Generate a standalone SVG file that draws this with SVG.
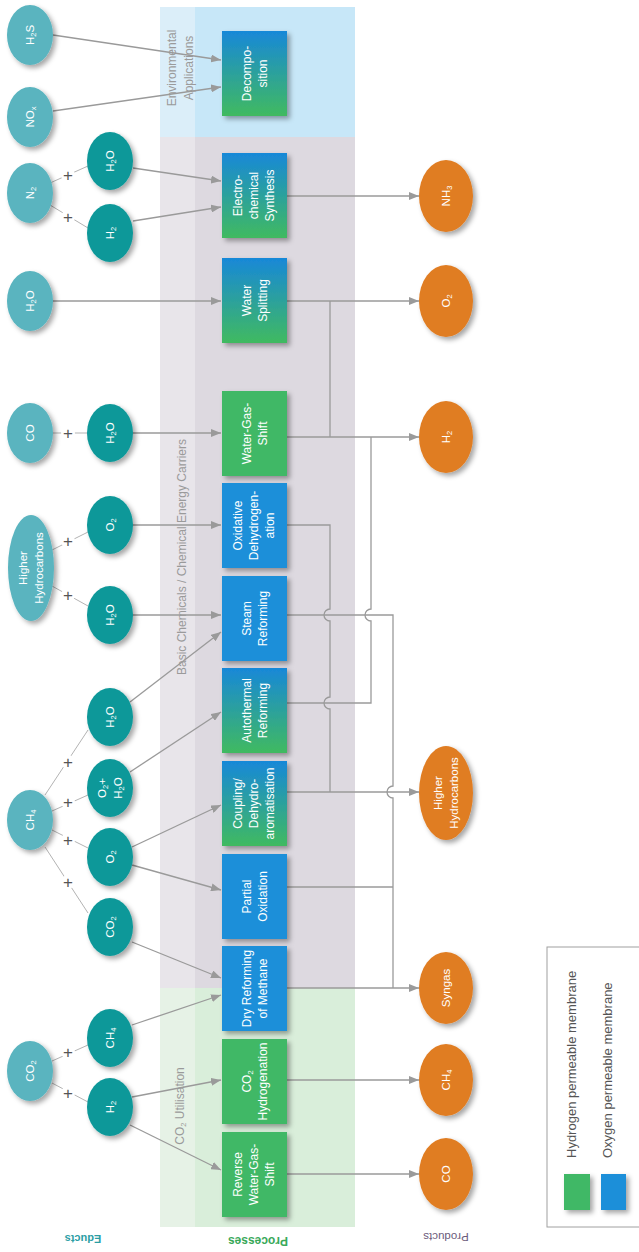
<svg xmlns="http://www.w3.org/2000/svg" width="639" height="1252" viewBox="0 0 639 1252">
<style>
text{font-family:"Liberation Sans",Arial,sans-serif}
.bt{fill:#fff;font-size:12px;text-anchor:middle}
.et{fill:#fff;font-size:11.5px;text-anchor:middle}
.sub{font-size:7.5px}
.lab{fill:#9a9a9a;font-size:12px;text-anchor:middle}
.c{stroke:#9a9a9a;stroke-width:1.3;fill:none}
.ca{stroke:#9a9a9a;stroke-width:1.3;fill:none;marker-end:url(#ah)}
.pl{stroke:#b3b3b3;stroke-width:1;fill:none}
.plus{fill:#555;font-size:17px;text-anchor:middle}
.g{fill:#3fb866}
.b{fill:#1b8fd9}
.gr{fill:url(#grad)}
.e1{fill:#5ab4bf}
.e2{fill:#0f9899}
.pr{fill:#e07d24}
</style>
<defs>
<linearGradient id="grad" x1="0" y1="0" x2="0" y2="1">
<stop offset="0" stop-color="#1888d8"/>
<stop offset="1" stop-color="#40ba60"/>
</linearGradient>
<filter id="sh" x="-30%" y="-30%" width="170%" height="170%">
<feDropShadow dx="3" dy="3" stdDeviation="2.5" flood-color="#000" flood-opacity="0.35"/>
</filter>
<marker id="ah" viewBox="0 0 10 8" refX="10" refY="4" markerWidth="10" markerHeight="8" markerUnits="userSpaceOnUse" orient="auto">
<path d="M0,0 L10,4 L0,8 z" fill="#9a9a9a"/>
</marker>
</defs>

<g id="bands">
<rect x="160" y="7" width="35" height="130" fill="#dbeef9"/>
<rect x="195" y="7" width="160" height="130" fill="#c7e7f8"/>
<rect x="160" y="137" width="35" height="851" fill="#e8e5ea"/>
<rect x="195" y="137" width="160" height="851" fill="#ddd9e0"/>
<rect x="160" y="988" width="35" height="239" fill="#e6f2e6"/>
<rect x="195" y="988" width="160" height="239" fill="#d9eeda"/>
<text class="lab" transform="translate(0,68) rotate(-90)"><tspan x="0" y="176">Environmental</tspan><tspan x="0" y="193">Applications</tspan></text>
<text class="lab" transform="translate(186,557) rotate(-90)" x="0" y="0">Basic Chemicals / Chemical Energy Carriers</text>
<text class="lab" transform="translate(184,1106) rotate(-90)" x="0" y="0">CO<tspan class="sub" dy="2">2</tspan><tspan dy="-2"> Utilisation</tspan></text>
</g>

<g id="headers">
<text transform="translate(83,1235) rotate(180)" style="fill:#2b9ea5;font-size:11px;font-weight:bold;text-anchor:middle">Educts</text>
<text transform="translate(258,1237) rotate(180)" style="fill:#3aa95a;font-size:12px;font-weight:bold;text-anchor:middle">Processes</text>
<text transform="translate(446,1233) rotate(180)" style="fill:#6b5b7b;font-size:11.5px;text-anchor:middle">Products</text>
</g>

<g id="educt-links">
<path class="pl" d="M50,183 L88,166"/>
<path class="pl" d="M50,205 L88,228"/>
<path class="pl" d="M53,433 L87,433"/>
<path class="pl" d="M52,550 L88,532"/>
<path class="pl" d="M52,586 L88,606"/>
<path class="pl" d="M45,795 L88,730"/>
<path class="pl" d="M52,811 L88,795"/>
<path class="pl" d="M52,830 L88,848"/>
<path class="pl" d="M45,847 L88,913"/>
<path class="pl" d="M52,1061 L88,1045"/>
<path class="pl" d="M52,1083 L88,1102"/>
<g fill="#fff">
<circle cx="68" cy="175" r="7"/><circle cx="68" cy="217" r="7"/><circle cx="68" cy="433" r="7"/>
<circle cx="68" cy="541" r="7"/><circle cx="68" cy="595" r="7"/><circle cx="68" cy="762" r="7"/>
<circle cx="68" cy="802" r="7"/><circle cx="68" cy="840" r="7"/><circle cx="68" cy="882" r="7"/>
<circle cx="68" cy="1052" r="7"/><circle cx="68" cy="1093" r="7"/>
</g>
<text class="plus" x="68" y="181">+</text>
<text class="plus" x="68" y="223">+</text>
<text class="plus" x="68" y="439">+</text>
<text class="plus" x="68" y="547">+</text>
<text class="plus" x="68" y="601">+</text>
<text class="plus" x="68" y="768">+</text>
<text class="plus" x="68" y="808">+</text>
<text class="plus" x="68" y="846">+</text>
<text class="plus" x="68" y="888">+</text>
<text class="plus" x="68" y="1058">+</text>
<text class="plus" x="68" y="1099">+</text>
</g>

<g id="connectors">
<path class="ca" d="M53,35 L221,60"/>
<path class="ca" d="M53,111 L221,87"/>
<path class="ca" d="M133,168 L221,181"/>
<path class="ca" d="M133,221 L221,207"/>
<path class="ca" d="M53,301 L221,301"/>
<path class="ca" d="M133,433 L221,433"/>
<path class="ca" d="M133,525 L221,525"/>
<path class="ca" d="M133,615 L221,615"/>
<path class="ca" d="M130,702 L221,632"/>
<path class="ca" d="M130,772 L221,712"/>
<path class="ca" d="M132,847 L221,805"/>
<path class="ca" d="M132,865 L221,890"/>
<path class="ca" d="M132,942 L221,978"/>
<path class="ca" d="M132,1025 L221,995"/>
<path class="ca" d="M132,1097 L221,1080"/>
<path class="ca" d="M130,1125 L221,1170"/>

<path class="ca" d="M287,196 L419,196"/>
<path class="ca" d="M287,301 L419,301"/>
<path class="c" d="M330,301 V437"/>
<path class="ca" d="M287,437 L419,437"/>
<path class="c" d="M287,525 H330 V609 A6,6 0 0,0 330,621 V697 A6,6 0 0,0 330,709 V792"/>
<path class="c" d="M287,615 H393 V786 A6,6 0 0,0 393,798 V988"/>
<path class="c" d="M287,703 H371 V621 A6,6 0 0,1 371,609 V437"/>
<path class="ca" d="M287,792 L419,792"/>
<path class="c" d="M287,887 H393"/>
<path class="ca" d="M287,988 L419,988"/>
<path class="ca" d="M287,1080 L419,1080"/>
<path class="ca" d="M287,1174 L419,1174"/>
</g>

<g id="educts">
<g id="e-h2s"><ellipse class="e1" cx="30" cy="35" rx="23" ry="30" filter="url(#sh)"/><text class="et" transform="translate(30,35) rotate(-90)" x="0" y="4">H<tspan class="sub" dy="2">2</tspan><tspan dy="-2">S</tspan></text></g>
<g id="e-nox"><ellipse class="e1" cx="30" cy="117" rx="23" ry="30" filter="url(#sh)"/><text class="et" transform="translate(30,117) rotate(-90)" x="0" y="4">NO<tspan class="sub" dy="2">x</tspan></text></g>
<g id="e-n2"><ellipse class="e1" cx="30" cy="193" rx="23" ry="30" filter="url(#sh)"/><text class="et" transform="translate(30,193) rotate(-90)" x="0" y="4">N<tspan class="sub" dy="2">2</tspan></text></g>
<g id="e-h2o-a"><ellipse class="e2" cx="110" cy="161" rx="23" ry="29" filter="url(#sh)"/><text class="et" transform="translate(110,161) rotate(-90)" x="0" y="4">H<tspan class="sub" dy="2">2</tspan><tspan dy="-2">O</tspan></text></g>
<g id="e-h2-a"><ellipse class="e2" cx="110" cy="233" rx="23" ry="29" filter="url(#sh)"/><text class="et" transform="translate(110,233) rotate(-90)" x="0" y="4">H<tspan class="sub" dy="2">2</tspan></text></g>
<g id="e-h2o-b"><ellipse class="e1" cx="30" cy="301" rx="23" ry="30" filter="url(#sh)"/><text class="et" transform="translate(30,301) rotate(-90)" x="0" y="4">H<tspan class="sub" dy="2">2</tspan><tspan dy="-2">O</tspan></text></g>
<g id="e-co"><ellipse class="e1" cx="30" cy="433" rx="23" ry="30" filter="url(#sh)"/><text class="et" transform="translate(30,433) rotate(-90)" x="0" y="4">CO</text></g>
<g id="e-h2o-c"><ellipse class="e2" cx="110" cy="433" rx="23" ry="29" filter="url(#sh)"/><text class="et" transform="translate(110,433) rotate(-90)" x="0" y="4">H<tspan class="sub" dy="2">2</tspan><tspan dy="-2">O</tspan></text></g>
<g id="e-hc"><ellipse class="e1" cx="31" cy="568" rx="23" ry="53" filter="url(#sh)"/><text class="et" transform="translate(31,568) rotate(-90)"><tspan x="0" y="-4">Higher</tspan><tspan x="0" y="12">Hydrocarbons</tspan></text></g>
<g id="e-o2-a"><ellipse class="e2" cx="110" cy="525" rx="23" ry="29" filter="url(#sh)"/><text class="et" transform="translate(110,525) rotate(-90)" x="0" y="4">O<tspan class="sub" dy="2">2</tspan></text></g>
<g id="e-h2o-d"><ellipse class="e2" cx="110" cy="615" rx="23" ry="29" filter="url(#sh)"/><text class="et" transform="translate(110,615) rotate(-90)" x="0" y="4">H<tspan class="sub" dy="2">2</tspan><tspan dy="-2">O</tspan></text></g>
<g id="e-h2o-e"><ellipse class="e2" cx="110" cy="717" rx="23" ry="29" filter="url(#sh)"/><text class="et" transform="translate(110,717) rotate(-90)" x="0" y="4">H<tspan class="sub" dy="2">2</tspan><tspan dy="-2">O</tspan></text></g>
<g id="e-ch4-a"><ellipse class="e1" cx="30" cy="820" rx="23" ry="30" filter="url(#sh)"/><text class="et" transform="translate(30,820) rotate(-90)" x="0" y="4">CH<tspan class="sub" dy="2">4</tspan></text></g>
<g id="e-o2h2o"><ellipse class="e2" cx="110" cy="788" rx="23" ry="29" filter="url(#sh)"/><text class="et" transform="translate(110,788) rotate(-90)"><tspan x="0" y="-4">O</tspan><tspan class="sub" dy="2">2</tspan><tspan dy="-2">+</tspan><tspan x="0" y="12">H</tspan><tspan class="sub" dy="2">2</tspan><tspan dy="-2">O</tspan></text></g>
<g id="e-o2-b"><ellipse class="e2" cx="110" cy="857" rx="23" ry="29" filter="url(#sh)"/><text class="et" transform="translate(110,857) rotate(-90)" x="0" y="4">O<tspan class="sub" dy="2">2</tspan></text></g>
<g id="e-co2-a"><ellipse class="e2" cx="110" cy="927" rx="23" ry="29" filter="url(#sh)"/><text class="et" transform="translate(110,927) rotate(-90)" x="0" y="4">CO<tspan class="sub" dy="2">2</tspan></text></g>
<g id="e-co2-b"><ellipse class="e1" cx="30" cy="1071" rx="23" ry="30" filter="url(#sh)"/><text class="et" transform="translate(30,1071) rotate(-90)" x="0" y="4">CO<tspan class="sub" dy="2">2</tspan></text></g>
<g id="e-ch4-b"><ellipse class="e2" cx="110" cy="1038" rx="23" ry="29" filter="url(#sh)"/><text class="et" transform="translate(110,1038) rotate(-90)" x="0" y="4">CH<tspan class="sub" dy="2">4</tspan></text></g>
<g id="e-h2-b"><ellipse class="e2" cx="110" cy="1107" rx="23" ry="29" filter="url(#sh)"/><text class="et" transform="translate(110,1107) rotate(-90)" x="0" y="4">H<tspan class="sub" dy="2">2</tspan></text></g>
</g>

<g id="processes">
<g id="p-dec"><rect class="gr" x="222" y="31" width="65" height="85" filter="url(#sh)"/><text class="bt" transform="translate(254.5,73.5) rotate(-90)"><tspan x="0" y="-4">Decompo-</tspan><tspan x="0" y="12">sition</tspan></text></g>
<g id="p-elec"><rect class="gr" x="222" y="153" width="65" height="85" filter="url(#sh)"/><text class="bt" transform="translate(254.5,195.5) rotate(-90)"><tspan x="0" y="-13">Electro-</tspan><tspan x="0" y="3">chemical</tspan><tspan x="0" y="19">Synthesis</tspan></text></g>
<g id="p-ws"><rect class="gr" x="222" y="258" width="65" height="85" filter="url(#sh)"/><text class="bt" transform="translate(254.5,300.5) rotate(-90)"><tspan x="0" y="-4">Water</tspan><tspan x="0" y="12">Splitting</tspan></text></g>
<g id="p-wgs"><rect class="g" x="222" y="391" width="65" height="85" filter="url(#sh)"/><text class="bt" transform="translate(254.5,433.5) rotate(-90)"><tspan x="0" y="-4">Water-Gas-</tspan><tspan x="0" y="12">Shift</tspan></text></g>
<g id="p-oxd"><rect class="b" x="222" y="483" width="65" height="85" filter="url(#sh)"/><text class="bt" transform="translate(254.5,525.5) rotate(-90)"><tspan x="0" y="-13">Oxidative</tspan><tspan x="0" y="3">Dehydrogen-</tspan><tspan x="0" y="19">ation</tspan></text></g>
<g id="p-steam"><rect class="b" x="222" y="576" width="65" height="85" filter="url(#sh)"/><text class="bt" transform="translate(254.5,618.5) rotate(-90)"><tspan x="0" y="-4">Steam</tspan><tspan x="0" y="12">Reforming</tspan></text></g>
<g id="p-auto"><rect class="gr" x="222" y="668" width="65" height="85" filter="url(#sh)"/><text class="bt" transform="translate(254.5,710.5) rotate(-90)"><tspan x="0" y="-4">Autothermal</tspan><tspan x="0" y="12">Reforming</tspan></text></g>
<g id="p-coup"><rect class="gr" x="222" y="761" width="65" height="85" filter="url(#sh)"/><text class="bt" transform="translate(254.5,803.5) rotate(-90)"><tspan x="0" y="-13">Coupling/</tspan><tspan x="0" y="3">Dehydro-</tspan><tspan x="0" y="19">aromatisation</tspan></text></g>
<g id="p-po"><rect class="b" x="222" y="854" width="65" height="85" filter="url(#sh)"/><text class="bt" transform="translate(254.5,896.5) rotate(-90)"><tspan x="0" y="-4">Partial</tspan><tspan x="0" y="12">Oxidation</tspan></text></g>
<g id="p-dry"><rect class="b" x="222" y="946" width="65" height="85" filter="url(#sh)"/><text class="bt" transform="translate(254.5,988.5) rotate(-90)"><tspan x="0" y="-4">Dry Reforming</tspan><tspan x="0" y="12">of Methane</tspan></text></g>
<g id="p-co2h"><rect class="g" x="222" y="1039" width="65" height="85" filter="url(#sh)"/><text class="bt" transform="translate(254.5,1081.5) rotate(-90)"><tspan x="0" y="-4">CO</tspan><tspan class="sub" dy="2">2</tspan><tspan x="0" y="12">Hydrogenation</tspan></text></g>
<g id="p-rwgs"><rect class="g" x="222" y="1132" width="65" height="85" filter="url(#sh)"/><text class="bt" transform="translate(254.5,1174.5) rotate(-90)"><tspan x="0" y="-13">Reverse</tspan><tspan x="0" y="3">Water-Gas-</tspan><tspan x="0" y="19">Shift</tspan></text></g>
</g>

<g id="products">
<g id="o-nh3"><ellipse class="pr" cx="446" cy="196" rx="27" ry="36" filter="url(#sh)"/><text class="et" transform="translate(446,196) rotate(-90)" x="0" y="4">NH<tspan class="sub" dy="2">3</tspan></text></g>
<g id="o-o2"><ellipse class="pr" cx="446" cy="301" rx="27" ry="36" filter="url(#sh)"/><text class="et" transform="translate(446,301) rotate(-90)" x="0" y="4">O<tspan class="sub" dy="2">2</tspan></text></g>
<g id="o-h2"><ellipse class="pr" cx="446" cy="437" rx="27" ry="36" filter="url(#sh)"/><text class="et" transform="translate(446,437) rotate(-90)" x="0" y="4">H<tspan class="sub" dy="2">2</tspan></text></g>
<g id="o-hc"><ellipse class="pr" cx="446" cy="793" rx="27" ry="47" filter="url(#sh)"/><text class="et" transform="translate(446,793) rotate(-90)"><tspan x="0" y="-4">Higher</tspan><tspan x="0" y="12">Hydrocarbons</tspan></text></g>
<g id="o-syn"><ellipse class="pr" cx="446" cy="988" rx="27" ry="36" filter="url(#sh)"/><text class="et" transform="translate(446,988) rotate(-90)" x="0" y="4">Syngas</text></g>
<g id="o-ch4"><ellipse class="pr" cx="446" cy="1080" rx="27" ry="36" filter="url(#sh)"/><text class="et" transform="translate(446,1080) rotate(-90)" x="0" y="4">CH<tspan class="sub" dy="2">4</tspan></text></g>
<g id="o-co"><ellipse class="pr" cx="446" cy="1174" rx="27" ry="36" filter="url(#sh)"/><text class="et" transform="translate(446,1174) rotate(-90)" x="0" y="4">CO</text></g>
</g>

<g id="legend">
<rect x="547" y="947" width="100" height="280" fill="none" stroke="#a0a0a0" stroke-width="1"/>
<rect class="g" x="564" y="1174" width="26" height="36" filter="url(#sh)"/>
<rect class="b" x="601" y="1174" width="25" height="36" filter="url(#sh)"/>
<text transform="translate(576,1158) rotate(-90)" style="fill:#555;font-size:13px">Hydrogen permeable membrane</text>
<text transform="translate(612,1158) rotate(-90)" style="fill:#555;font-size:13px">Oxygen permeable membrane</text>
</g>
</svg>
